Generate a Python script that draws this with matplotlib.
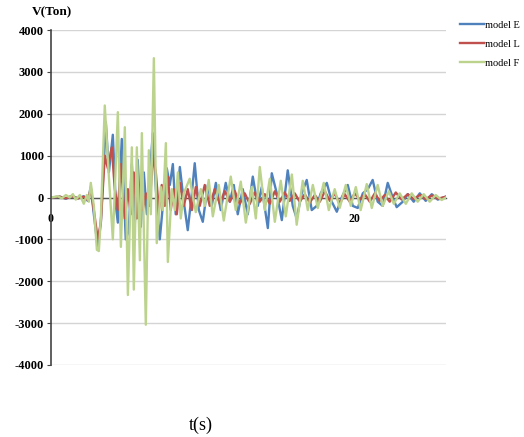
import matplotlib.pyplot as plt
import numpy as np

# peak / trough readings, time in s, shear in Ton
t_E = [0, 0.59, 0.99, 1.38, 1.78, 2.17, 2.43, 2.63, 2.83, 3.09, 3.29, 3.62, 3.82, 4.08, 4.28, 4.41,
       4.67, 4.93, 5.13, 5.33, 5.53, 5.72, 5.92, 6.12, 6.32, 6.51, 6.71, 6.91, 7.17, 7.37, 7.63, 7.83,
       8.03, 8.22, 8.49, 8.75, 9.01, 9.28, 9.47, 9.74, 10.00, 10.33, 10.59, 10.86, 11.18, 11.51, 11.78,
       12.04, 12.30, 12.63, 12.96, 13.29, 13.62, 13.88, 14.28, 14.54, 14.87, 15.20, 15.59, 15.92, 16.18,
       16.51, 16.84, 17.17, 17.50, 17.76, 18.16, 18.49, 18.82, 19.14, 19.54, 19.87, 20.20, 20.53, 20.86,
       21.18, 21.51, 21.84, 22.17, 22.50, 22.76, 23.16, 23.49, 23.88, 24.28, 24.67, 25.07, 25.46, 25.99]
v_E = [0, 20, -30, 40, -20, 30, -80, 250, -400, -1200, -600, 1800, 600, 1500, -200, -600,
       1400, -1000, -800, 800, -600, 900, -700, 600, -400, 500, 1540, 200, -1000, -200, 700, 300,
       800, -400, 730, -100, -780, 100, 820, -300, -580, 300, -200, 350, -300, 350, -100,
       300, -400, 200, -400, 500, -200, 250, -730, 580, 100, -540, 650, -200, -500,
       100, 420, -300, -200, 100, 350, -100, -340, 0, 300, -200, -250, 100, 200,
       420, -100, -200, 350, 0, -230, -100, 80, -100, 100, -80, 80, -50, 20]

t_L = [0, 0.59, 0.99, 1.38, 1.78, 2.17, 2.43, 2.63, 2.83, 3.09, 3.29, 3.55, 3.75, 4.01, 4.21, 4.41,
       4.61, 4.87, 5.07, 5.26, 5.46, 5.66, 5.86, 6.05, 6.25, 6.51, 6.71, 6.91, 7.11, 7.30, 7.50, 7.70,
       7.89, 8.09, 8.29, 8.49, 8.75, 9.01, 9.28, 9.54, 9.80, 10.13, 10.46, 10.79, 11.12, 11.45, 11.78,
       12.11, 12.43, 12.76, 13.09, 13.42, 13.75, 14.08, 14.41, 14.74, 15.07, 15.39, 15.72, 16.05, 16.38,
       16.71, 17.04, 17.37, 17.70, 18.03, 18.36, 18.68, 19.01, 19.34, 19.67, 20.00, 20.33, 20.66, 20.99,
       21.32, 21.64, 21.97, 22.30, 22.70, 23.09, 23.49, 23.88, 24.28, 24.67, 25.07, 25.46, 25.99]
v_L = [0, 20, -20, 30, -20, 20, -60, 200, -300, -1000, -600, 1000, 700, 1200, 200, -300,
       800, -500, 200, -400, 600, -500, 300, -300, 100, -200, 1000, 600, -300, 300, -200, 500,
       -300, 200, -400, 350, -200, 200, -300, 250, -200, 300, -200, 200, -150, 150, -100,
       150, -150, 100, -150, 120, -100, 80, -150, 150, -100, 120, -80, 100, -100,
       80, -120, 60, -100, 150, -80, 100, -150, 80, -100, 100, -50, 80, -100,
       100, -80, 60, -100, 120, -50, 80, -40, 60, -40, 50, -30, 20]

t_F = [0, 0.46, 0.72, 0.99, 1.25, 1.45, 1.64, 1.91, 2.17, 2.37, 2.50, 2.63, 2.83, 3.03, 3.16, 3.29,
       3.55, 3.82, 4.08, 4.41, 4.61, 4.87, 5.07, 5.33, 5.46, 5.66, 5.86, 5.99, 6.25, 6.45, 6.58, 6.78,
       6.97, 7.24, 7.37, 7.57, 7.70, 7.96, 8.16, 8.36, 8.55, 8.75, 9.14, 9.54, 9.87, 10.13, 10.39,
       10.66, 11.05, 11.38, 11.84, 12.17, 12.50, 12.83, 13.22, 13.49, 13.75, 14.08, 14.41, 14.74, 15.13,
       15.46, 15.86, 16.18, 16.58, 16.91, 17.24, 17.57, 17.96, 18.29, 18.68, 19.01, 19.41, 19.74, 20.07,
       20.39, 20.79, 21.12, 21.51, 21.84, 22.24, 22.57, 22.96, 23.36, 23.75, 24.14, 24.54, 24.93, 25.33,
       25.72, 25.99]
v_F = [0, 30, -20, 60, 0, 80, -50, 60, -150, 60, -100, 350, -200, -1250, -1280, -500,
       2200, 500, -1000, 2040, -1180, 1680, -2330, 1200, -2200, 1200, -1500, 1540, -3040, 1130, -400, 3330,
       -1090, 250, -300, 1300, -1540, 200, -300, 600, -500, 100, 450, -350, 200, -200, 420,
       -450, 300, -550, 500, -300, 380, -600, 250, -500, 730, -300, 450, -580, 400,
       -450, 550, -650, 400, -300, 300, -250, 350, -300, 200, -250, 300, -200, 250,
       -300, 320, -250, 300, -200, 150, -150, 100, -150, 100, -100, 80, -100, 60,
       -60, 0]

series = [("model E", t_E, v_E, "#4f81bd"),
          ("model L", t_L, v_L, "#c0504d"),
          ("model F", t_F, v_F, "#bcd38e")]

plt.rcParams['font.family'] = ['Liberation Serif', 'DejaVu Serif']
plt.rcParams['axes.unicode_minus'] = False

fig = plt.figure(figsize=(5.24, 4.37), dpi=100)
ax = fig.add_axes([0.097, 0.165, 0.754, 0.766])

for name, t, v, c in series:
    ax.plot(t, v, color=c, lw=1.7, label=name, solid_joinstyle='round')

ax.set_xlim(0, 26)
ax.set_ylim(-4000, 4000)
ax.set_yticks(np.arange(-4000, 4001, 1000))
ax.yaxis.grid(True, color='#d4d4d4', lw=1)
ax.set_axisbelow(True)

for s in ['top', 'right']:
    ax.spines[s].set_visible(False)
ax.spines['bottom'].set_position(('data', 0))
ax.spines['bottom'].set_color('#555555')
ax.spines['bottom'].set_linewidth(1)
ax.spines['bottom'].set_zorder(1.5)
ax.spines['left'].set_color('#444444')
ax.spines['left'].set_linewidth(1.2)

ax.set_xticks([0, 20])
ax.set_xticklabels(['0', '20'])
ax.tick_params(axis='x', length=0, pad=11, labelsize=8.5)
ax.tick_params(axis='y', length=3, color='#444444', labelsize=9, pad=2)
for lab in ax.get_xticklabels() + ax.get_yticklabels():
    lab.set_fontweight('bold')

fig.text(0.061, 0.972, "V(Ton)", fontsize=9.5, fontweight='bold', va='center')
fig.text(0.383, 0.027, "t(s)", fontsize=13, ha='center', va='center')

fig.legend(loc='upper right', bbox_to_anchor=(1.01, 0.975), frameon=False,
           fontsize=7.5, handlelength=2.3, handletextpad=0.1, labelspacing=0.95)

fig.savefig("out.png", dpi=100)
